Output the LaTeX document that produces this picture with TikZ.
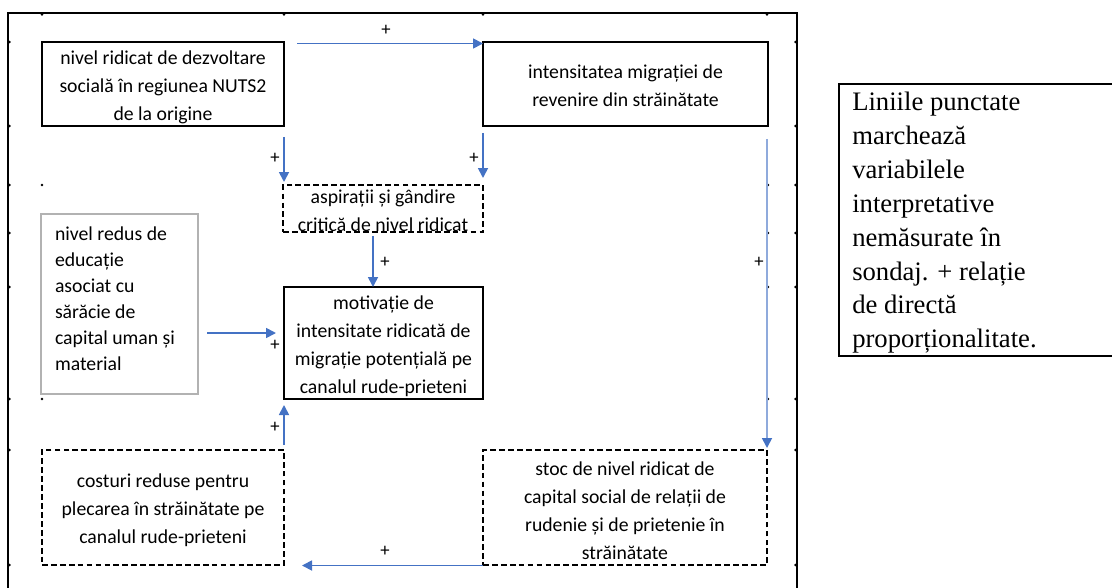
\documentclass[tikz,border=0pt]{standalone}
\usepackage{fontspec}
\setmainfont{Liberation Serif}
\newfontfamily\calfont{Carlito}
\usetikzlibrary{arrows.meta,calc}
\definecolor{arrblue}{HTML}{4472C4}
\definecolor{lightblue}{HTML}{8FAADC}
\begin{document}
\begin{tikzpicture}[x=0.75pt,y=-0.75pt,
  box/.style={draw=black,line width=0.9pt,inner sep=0pt,outer sep=0pt},
  dbox/.style={box,line width=1.4pt,dash pattern=on 4.3pt off 2.4pt},
  txt/.style={inner sep=0pt,outer sep=0pt,align=center,
    font=\calfont\fontsize{14.8pt}{21pt}\selectfont},
  arr/.style={draw=arrblue,line width=1.3pt,-{Triangle[length=7.5pt,width=7.5pt]}},
  plus/.style={inner sep=0pt,font=\calfont\fontsize{14pt}{14pt}\selectfont},
  tick/.style={fill=black,circle,inner sep=0pt,minimum size=2pt}]
\useasboundingbox (0,0) rectangle (1112,588);
% outer frame
\draw[line width=1.6pt] (8,600) -- (8,13) -- (797,13) -- (797,600);
% tick dots
\foreach \yy in {42,126,185,233,287,399,450,565}{
  \node[tick] at (9.5,\yy) {};
  \node[tick] at (795.5,\yy) {};
}
\foreach \xx in {42,284,483,767}{ \node[tick] at (\xx,14.5) {}; }
\foreach \yy in {185,233,287,399}{ \node[tick] at (768,\yy) {}; }
\node[tick] at (42,185) {};
\node[tick] at (42,399) {};
% boxes
\node[box,minimum width=242*0.75pt,minimum height=84*0.75pt] (b1) at (163,84) {};
\node[txt] (b1t) at ($(b1.center)+(0,3)$)
  {nivel ridicat de dezvoltare\\socială în regiunea NUTS2\\de la origine};
\node[box,minimum width=285*0.75pt,minimum height=84*0.75pt] (b2) at (625.5,84) {};
\node[txt] (b2t) at ($(b2.center)+(0,2)$)
  {intensitatea migrației de\\revenire din străinătate};
\node[dbox,minimum width=200*0.75pt,minimum height=47*0.75pt] (asp) at (383,208.5) {};
\node[txt] (aspt) at ($(asp.center)+(0,2)$)
  {aspirații și gândire\\critică de nivel ridicat};
\node[box,minimum width=199*0.75pt,minimum height=112*0.75pt] (mot) at (383.5,343) {};
\node[txt] (mott) at ($(mot.center)+(0,3)$)
  {motivație de\\intensitate ridicată de\\migrație potențială pe\\canalul rude-prieteni};
\node[box,draw=black!30,line width=1.1pt,minimum width=157*0.75pt,minimum height=180*0.75pt] (edu) at (119.5,304) {};
\node[txt,align=left,anchor=north west,font=\calfont\fontsize{14.8pt}{19.4pt}\selectfont] (edut) at (55,227)
  {nivel redus de\\educație\\asociat cu\\sărăcie de\\capital uman și\\material};
\node[dbox,minimum width=242*0.75pt,minimum height=115*0.75pt] (cost) at (163,507.5) {};
\node[txt] (costt) at ($(cost.center)+(0,3)$)
  {costuri reduse pentru\\plecarea în străinătate pe\\canalul rude-prieteni};
\node[dbox,minimum width=284*0.75pt,minimum height=115*0.75pt] (stoc) at (625,507.5) {};
\node[txt] (stoct) at ($(stoc.center)+(0,3)$)
  {stoc de nivel ridicat de\\capital social de relații de\\rudenie și de prietenie în\\străinătate};
% note box
\draw[line width=1.3pt] (1120,84) -- (839,84) -- (839,356) -- (1120,356);
\node[inner sep=0pt,align=left,anchor=north west,font=\fontsize{20pt}{25.4pt}\selectfont] (note) at (852,92)
  {Liniile punctate\\marchează\\variabilele\\interpretative\\nemăsurate în\\sondaj. + relație\\de directă\\proporționalitate.};
% arrows
\draw[arr] ($(b1.north east)+(13,1.5)$) -- ($(b2.north west)+(0,1.5)$);
\draw[arr] ($(b1.south east)+(0,11)$) -- ($(asp.north west)+(1,-3)$);
\draw[arr] ($(b2.south west)+(0,7)$) -- ($(asp.north east)+(0,-7)$);
\draw[arr] ($(asp.south)+(-10,4)$) -- ($(mot.north)+(-10.5,0)$);
\draw[arr] ($(edu.east)+(9,29)$) -- ($(mot.west)+(-8,-10)$);
\draw[arr] ($(cost.north east)+(0,-5)$) -- ($(mot.south west)+(0,6)$);
\draw[arr] ($(stoc.south west)+(0,0.5)$) -- ($(cost.south east)+(18,0.5)$);
\coordinate (vs) at ($(b2.south east)+(-1,13)$);
\coordinate (ve) at ($(stoc.north east)+(0,-2)$);
\draw[lightblue,line width=1.3pt,-{Triangle[length=7.5pt,width=7.5pt,color=arrblue]}] (vs) -- (ve);
% plus labels
\node[plus] (p1) at (386,30) {+};
\node[plus] (p2) at (275,158) {+};
\node[plus] (p3) at (474,158) {+};
\node[plus] (p4) at (385,262) {+};
\node[plus] (p5) at (275,345) {+};
\node[plus] (p6) at (275,427) {+};
\node[plus] (p7) at (385,551) {+};
\node[plus] (p8) at (759,262) {+};
\end{tikzpicture}
\end{document}
